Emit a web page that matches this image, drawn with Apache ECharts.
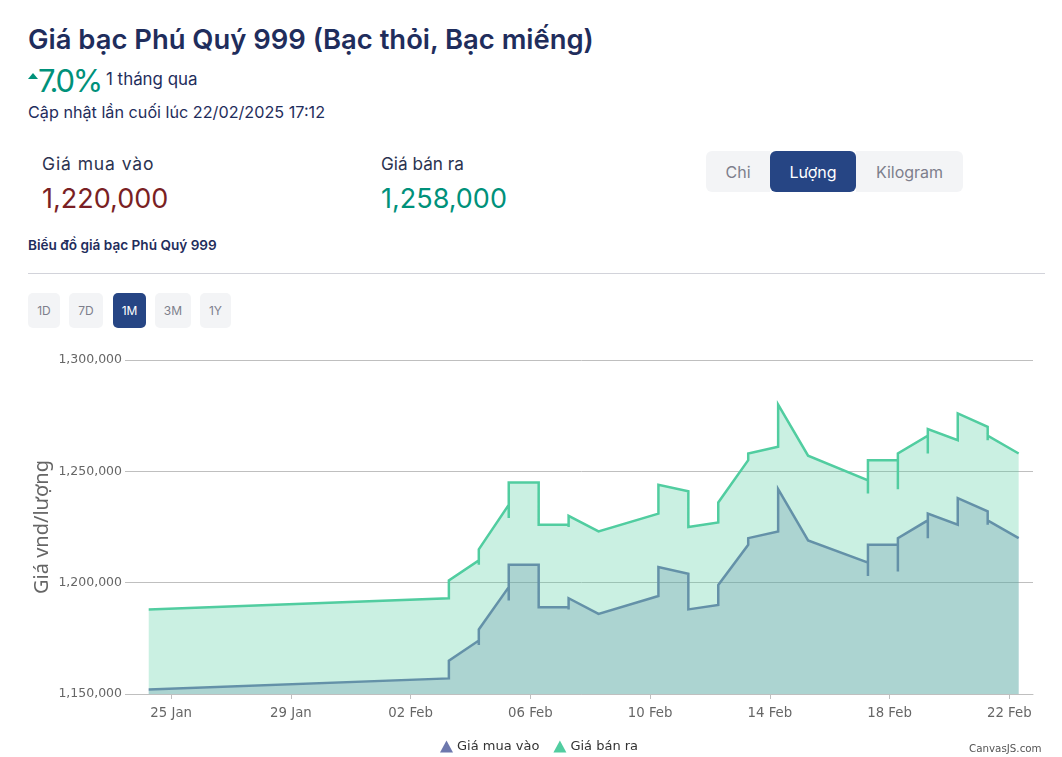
<!DOCTYPE html>
<html lang="vi">
<head>
<meta charset="utf-8">
<title>Giá bạc Phú Quý 999</title>
<script src="https://cdn.jsdelivr.net/npm/echarts@6/dist/echarts.min.js"></script>
<style>
html, body { margin: 0; padding: 0; background: #fff; }
body { position: relative; width: 1062px; height: 757px; overflow: hidden; font-family: Inter, "Noto Sans", sans-serif; }
.t { position: absolute; white-space: nowrap; line-height: 1; }
.btn { position: absolute; box-sizing: border-box; display: flex; align-items: center; justify-content: center; background: #f3f4f6; color: #7d7f8c; }
.btn.on { background: #264584; color: #fff; }
#chart { position: absolute; left: 0; top: 340px; width: 1062px; height: 417px; }
</style>
</head>
<body>
<div class="t" style="left:28px;top:26px;font-size:27.4px;font-weight:600;color:#1f2d5c">Giá bạc Phú Quý 999 (Bạc thỏi, Bạc miếng)</div>
<div style="position:absolute;left:28px;top:73px;width:0;height:0;border-left:5px solid transparent;border-right:5px solid transparent;border-bottom:6px solid #00917a"></div>
<div class="t" style="left:38px;top:65px;font-size:31px;color:#00917a;letter-spacing:-2.2px">7.0%</div>
<div class="t" style="left:106px;top:71px;font-size:16.9px;color:#1f2d5c">1 tháng qua</div>
<div class="t" style="left:28px;top:104px;font-size:16.2px;color:#1f2d5c">Cập nhật lần cuối lúc 22/02/2025 17:12</div>
<div class="t" style="left:42px;top:155px;font-size:17.5px;letter-spacing:0.9px;color:#2b3350">Giá mua vào</div>
<div class="t" style="left:42px;top:185px;font-size:27px;color:#7a1f24">1,220,000</div>
<div class="t" style="left:381px;top:155px;font-size:17.2px;color:#2b3350">Giá bán ra</div>
<div class="t" style="left:381px;top:185px;font-size:27px;color:#00917a">1,258,000</div>
<div class="btn" style="left:706px;top:151px;width:64px;height:41px;font-size:16px;border-radius:6px 0 0 6px">Chi</div>
<div class="btn on" style="left:770px;top:151px;width:86px;height:41px;font-size:16px;border-radius:6px">Lượng</div>
<div class="btn" style="left:856px;top:151px;width:107px;height:41px;font-size:16px;border-radius:0 6px 6px 0">Kilogram</div>
<div class="t" style="left:28px;top:239px;font-size:13.6px;font-weight:600;color:#1f2d5c">Biểu đồ giá bạc Phú Quý 999</div>
<div style="position:absolute;left:28px;top:273px;width:1017px;height:1px;background:#d2d3da"></div>
<div class="btn" style="left:28px;top:293px;width:32px;height:35px;font-size:12px;border-radius:5px">1D</div>
<div class="btn" style="left:69px;top:293px;width:34px;height:35px;font-size:12px;border-radius:5px">7D</div>
<div class="btn on" style="left:113px;top:293px;width:33px;height:35px;font-size:12px;border-radius:5px">1M</div>
<div class="btn" style="left:155px;top:293px;width:36px;height:35px;font-size:12px;border-radius:5px">3M</div>
<div class="btn" style="left:200px;top:293px;width:31px;height:35px;font-size:12px;border-radius:5px">1Y</div>
<div id="chart"></div>
<div class="t" style="left:969px;top:743px;font-size:10.3px;color:#555;font-family:'DejaVu Sans'">CanvasJS.com</div>
<script>
// giá, cùng ngày có thể có nhiều điểm
var priceTimes = [
    '2025-01-24T06:00',
    '2025-02-03T06:40', '2025-02-03T06:40',
    '2025-02-04T06:40', '2025-02-04T06:40', '2025-02-04T06:40',
    '2025-02-05T06:40', '2025-02-05T06:40', '2025-02-05T06:40',
    '2025-02-06T06:40', '2025-02-06T06:40',
    '2025-02-07T06:40', '2025-02-07T06:40', '2025-02-07T06:40',
    '2025-02-08T06:40',
    '2025-02-10T06:40', '2025-02-10T06:40',
    '2025-02-11T06:40', '2025-02-11T06:40',
    '2025-02-12T06:40', '2025-02-12T06:40',
    '2025-02-13T06:40', '2025-02-13T06:40',
    '2025-02-14T06:40', '2025-02-14T06:40',
    '2025-02-15T06:40',
    '2025-02-17T06:40', '2025-02-17T06:40', '2025-02-17T06:40',
    '2025-02-18T06:40', '2025-02-18T06:40', '2025-02-18T06:40',
    '2025-02-19T06:40', '2025-02-19T06:40', '2025-02-19T06:40',
    '2025-02-20T06:40', '2025-02-20T06:40',
    '2025-02-21T06:40', '2025-02-21T06:40', '2025-02-21T06:40',
    '2025-02-22T07:30'
];
var buyPrices = [
    1152000,
    1157000, 1165000,
    1174000, 1172000, 1179000,
    1198000, 1192000, 1208000,
    1208000, 1189000,
    1189000, 1188000, 1193000,
    1186000,
    1194000, 1207000,
    1204000, 1188000,
    1190000, 1199000,
    1217000, 1220000,
    1223000, 1242000,
    1219000,
    1209000, 1203000, 1217000,
    1217000, 1205000, 1220000,
    1228000, 1220000, 1231000,
    1226000, 1238000,
    1232000, 1226000, 1228000,
    1220000
];
var sellPrices = [
    1188000,
    1193000, 1201000,
    1210000, 1208000, 1215000,
    1235000, 1229000, 1245000,
    1245000, 1226000,
    1226000, 1225000, 1230000,
    1223000,
    1231000, 1244000,
    1241000, 1225000,
    1227000, 1236000,
    1255000, 1258000,
    1261000, 1280000,
    1257000,
    1246000, 1240000, 1255000,
    1255000, 1242000, 1258000,
    1266000, 1258000, 1269000,
    1264000, 1276000,
    1270000, 1264000, 1266000,
    1258000
];
var tickDates = ['2025-01-25', '2025-01-29', '2025-02-02', '2025-02-06', '2025-02-10', '2025-02-14', '2025-02-18', '2025-02-22'];
var tickLabels = ['25 Jan', '29 Jan', '02 Feb', '06 Feb', '10 Feb', '14 Feb', '18 Feb', '22 Feb'];

function toTime(s) {
    return new Date(s.length > 10 ? s : s + 'T00:00').getTime();
}
function pairs(values) {
    return values.map(function (v, i) {
        return [toTime(priceTimes[i]), v];
    });
}
var tickTimes = tickDates.map(toTime);

var chart = echarts.init(document.getElementById('chart'));
chart.setOption({
    animation: false,
    textStyle: { fontFamily: 'DejaVu Sans' },
    grid: { left: 130, right: 29, top: 20, height: 334 },
    legend: {
        left: 435,
        top: 395,
        icon: 'triangle',
        itemWidth: 13,
        itemHeight: 12,
        itemGap: 14,
        textStyle: { fontSize: 13, color: '#333', padding: [0, 0, 0, -1] },
        data: ['Giá mua vào', 'Giá bán ra']
    },
    xAxis: {
        // trục value để đặt tick theo ngày
        type: 'value',
        min: toTime('2025-01-23T15:00'),
        max: toTime('2025-02-22T19:00'),
        axisLine: { lineStyle: { color: '#bfbfbf', width: 1 } },
        axisTick: { length: 5, lineStyle: { color: '#bfbfbf' }, customValues: tickTimes },
        axisLabel: {
            customValues: tickTimes,
            fontSize: 13.3,
            color: '#666',
            margin: 13,
            hideOverlap: false,
            formatter: function (v) {
                return tickLabels[tickTimes.indexOf(v)];
            }
        },
        splitLine: { show: false }
    },
    yAxis: {
        type: 'value',
        min: 1150000,
        max: 1300000,
        interval: 50000,
        name: 'Giá vnd/lượng',
        nameLocation: 'middle',
        nameGap: 78,
        nameMoveOverlap: false,
        nameTextStyle: { fontSize: 20, color: '#666', fontFamily: 'Noto Sans' },
        axisLine: { show: false },
        axisTick: { show: true, length: 5, lineStyle: { color: '#bfbfbf' } },
        axisLabel: {
            fontSize: 12.5,
            color: '#666',
            margin: 8,
            padding: [3, 0, 0, 0],
            formatter: function (v) {
                return v.toLocaleString('en-US');
            }
        },
        splitLine: { lineStyle: { color: '#bfbfbf', width: 1 } }
    },
    series: [
        {
            name: 'Giá mua vào',
            type: 'line',
            z: 2,
            showSymbol: false,
            data: pairs(buyPrices),
            itemStyle: { color: '#6D78AD' },
            lineStyle: { color: '#6D78AD', width: 2.5, join: 'miter' },
            areaStyle: { color: '#6D78AD', opacity: 0.3 }
        },
        {
            name: 'Giá bán ra',
            type: 'line',
            z: 3,
            showSymbol: false,
            data: pairs(sellPrices),
            itemStyle: { color: '#51CDA0' },
            lineStyle: { color: '#51CDA0', width: 2.5, join: 'miter' },
            areaStyle: { color: '#51CDA0', opacity: 0.3 }
        }
    ]
});
</script>
</body>
</html>
